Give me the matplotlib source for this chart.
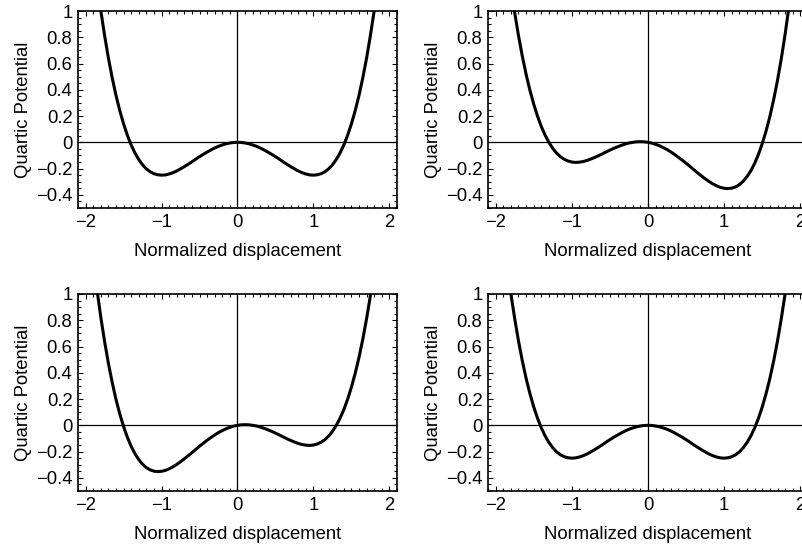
import numpy as np
import matplotlib.pyplot as plt
from matplotlib.ticker import MultipleLocator

plt.rcParams["font.family"] = ["Liberation Sans", "DejaVu Sans"]

# -------------------------------------------------------------------------
# DATA
# -------------------------------------------------------------------------
x_vals = [-1.9, -1.85, -1.8, -1.75, -1.7, -1.65, -1.6, -1.55, -1.5, -1.45,
          -1.4, -1.35, -1.3, -1.25, -1.2, -1.15, -1.1, -1.05, -1.0, -0.95,
          -0.9, -0.85, -0.8, -0.75, -0.7, -0.65, -0.6, -0.55, -0.5, -0.45,
          -0.4, -0.35, -0.3, -0.25, -0.2, -0.15, -0.1, -0.05, 0.0,
          0.05, 0.1, 0.15, 0.2, 0.25, 0.3, 0.35, 0.4, 0.45, 0.5,
          0.55, 0.6, 0.65, 0.7, 0.75, 0.8, 0.85, 0.9, 0.95, 1.0,
          1.05, 1.1, 1.15, 1.2, 1.25, 1.3, 1.35, 1.4, 1.45, 1.5,
          1.55, 1.6, 1.65, 1.7, 1.75, 1.8, 1.85, 1.9]

# symmetric double well (top left)
pot_sym_a = [1.453, 1.217, 1.004, 0.814, 0.643, 0.492, 0.358, 0.242, 0.141, 0.054,
             -0.020, -0.081, -0.131, -0.171, -0.202, -0.224, -0.239, -0.247, -0.250, -0.248,
             -0.241, -0.231, -0.218, -0.202, -0.185, -0.167, -0.148, -0.128, -0.109, -0.091,
             -0.074, -0.058, -0.043, -0.030, -0.020, -0.011, -0.005, -0.001, 0.000,
             -0.001, -0.005, -0.011, -0.020, -0.030, -0.043, -0.058, -0.074, -0.091, -0.109,
             -0.128, -0.148, -0.167, -0.185, -0.202, -0.218, -0.231, -0.241, -0.248, -0.250,
             -0.247, -0.239, -0.224, -0.202, -0.171, -0.131, -0.081, -0.020, 0.054, 0.141,
             0.242, 0.358, 0.492, 0.643, 0.814, 1.004, 1.217, 1.453]

# well tilted to the right (top right)
pot_tilt_r = [1.643, 1.402, 1.184, 0.989, 0.813, 0.657, 0.518, 0.397, 0.291, 0.199,
              0.120, 0.054, -0.001, -0.046, -0.082, -0.109, -0.129, -0.142, -0.150, -0.153,
              -0.151, -0.146, -0.138, -0.127, -0.115, -0.102, -0.088, -0.073, -0.059, -0.046,
              -0.034, -0.023, -0.013, -0.005, 0.000, 0.004, 0.005, 0.004, 0.000,
              -0.006, -0.015, -0.026, -0.040, -0.055, -0.073, -0.093, -0.114, -0.136, -0.159,
              -0.183, -0.208, -0.232, -0.255, -0.277, -0.298, -0.316, -0.331, -0.343, -0.350,
              -0.352, -0.349, -0.339, -0.322, -0.296, -0.261, -0.216, -0.160, -0.091, -0.009,
              0.087, 0.198, 0.327, 0.473, 0.639, 0.824, 1.032, 1.263]

# well tilted to the left (bottom left)
pot_tilt_l = [1.263, 1.032, 0.824, 0.639, 0.473, 0.327, 0.198, 0.087, -0.009, -0.091,
              -0.160, -0.216, -0.261, -0.296, -0.322, -0.339, -0.349, -0.352, -0.350, -0.343,
              -0.331, -0.316, -0.298, -0.277, -0.255, -0.232, -0.208, -0.183, -0.159, -0.136,
              -0.114, -0.093, -0.073, -0.055, -0.040, -0.026, -0.015, -0.006, 0.000,
              0.004, 0.005, 0.004, 0.000, -0.005, -0.013, -0.023, -0.034, -0.046, -0.059,
              -0.073, -0.088, -0.102, -0.115, -0.127, -0.138, -0.146, -0.151, -0.153, -0.150,
              -0.142, -0.129, -0.109, -0.082, -0.046, -0.001, 0.054, 0.120, 0.199, 0.291,
              0.397, 0.518, 0.657, 0.813, 0.989, 1.184, 1.402, 1.643]

# symmetric double well again (bottom right)
pot_sym_b = [1.453, 1.217, 1.004, 0.814, 0.643, 0.492, 0.358, 0.242, 0.141, 0.054,
             -0.020, -0.081, -0.131, -0.171, -0.202, -0.224, -0.239, -0.247, -0.250, -0.248,
             -0.241, -0.231, -0.218, -0.202, -0.185, -0.167, -0.148, -0.128, -0.109, -0.091,
             -0.074, -0.058, -0.043, -0.030, -0.020, -0.011, -0.005, -0.001, 0.000,
             -0.001, -0.005, -0.011, -0.020, -0.030, -0.043, -0.058, -0.074, -0.091, -0.109,
             -0.128, -0.148, -0.167, -0.185, -0.202, -0.218, -0.231, -0.241, -0.248, -0.250,
             -0.247, -0.239, -0.224, -0.202, -0.171, -0.131, -0.081, -0.020, 0.054, 0.141,
             0.242, 0.358, 0.492, 0.643, 0.814, 1.004, 1.217, 1.453]

x_ticks = [-2, -1, 0, 1, 2]
x_tick_labels = ["\u22122", "\u22121", "0", "1", "2"]
y_ticks = [-0.4, -0.2, 0, 0.2, 0.4, 0.6, 0.8, 1]
y_tick_labels = ["\u22120.4", "\u22120.2", "0", "0.2", "0.4", "0.6", "0.8", "1"]

# -------------------------------------------------------------------------
# FIGURE
# -------------------------------------------------------------------------
W, H = 803, 549
fig = plt.figure(figsize=(W / 100, H / 100), dpi=100)


def px_axes(left, top, right, bottom):
    return fig.add_axes([left / W, 1 - bottom / H, (right - left) / W, (bottom - top) / H])


panels = [
    (px_axes(78, 11, 397, 208), pot_sym_a),
    (px_axes(488, 11, 808, 208), pot_tilt_r),
    (px_axes(78, 294, 397, 491), pot_tilt_l),
    (px_axes(488, 294, 808, 491), pot_sym_b),
]

fs = 13.3
for ax, pot in panels:
    ax.axhline(0, color="black", lw=0.9, zorder=1)
    ax.axvline(0, color="black", lw=0.9, zorder=1)
    ax.plot(x_vals, pot, color="black", lw=2.2, zorder=3)

    ax.set_xlim(-2.1, 2.1)
    ax.set_ylim(-0.5, 1.0)
    ax.set_xticks(x_ticks)
    ax.set_xticklabels(x_tick_labels)
    ax.set_yticks(y_ticks)
    ax.set_yticklabels(y_tick_labels)
    ax.xaxis.set_minor_locator(MultipleLocator(0.1))
    ax.yaxis.set_minor_locator(MultipleLocator(0.05))
    ax.tick_params(which="both", direction="in", top=True, right=True,
                   labelsize=fs, width=0.8, pad=4)
    ax.tick_params(which="major", length=3.5)
    ax.tick_params(which="minor", length=2)
    for sp in ax.spines.values():
        sp.set_linewidth(1.2)

    ax.set_xlabel("Normalized displacement", fontsize=fs, labelpad=9)
    ax.set_ylabel("Quartic Potential", fontsize=fs, labelpad=3)

fig.savefig("out.png", dpi=100)
